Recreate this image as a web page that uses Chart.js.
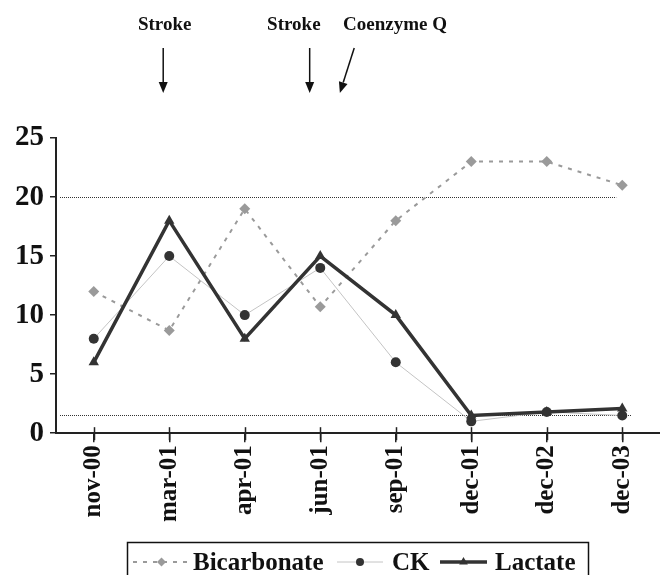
<!DOCTYPE html>
<html lang="en">

<head>
  <meta charset="UTF-8">
  <title>Chart</title>
  <style>
    html,
    body {
      margin: 0;
      background: #fff;
    }

    #wrap {
      width: 660px;
      height: 575px;
    }
  </style>
</head>

<body>
  <div id="wrap"><canvas id="myChart"></canvas></div>
  <script src="https://cdn.jsdelivr.net/npm/chart.js@4/dist/chart.umd.min.js"></script>
  <script>
    const months = ['nov-00', 'mar-01', 'apr-01', 'jun-01', 'sep-01', 'dec-01', 'dec-02', 'dec-03']
    const bicarbonate = [12, 8.7, 19, 10.7, 18, 23, 23, 21]
    const ck = [8, 15, 10, 14, 6, 1, 1.8, 1.5]
    const lactate = [6, 18, 8, 15, 10, 1.5, 1.8, 2.1]
    const refLevels = [20, 1.5]
    const events = ['Stroke', 'Stroke', 'Coenzyme Q']

    const serif = '"Liberation Serif", "Times New Roman", serif'

    function arrow(ctx, x1, y1, x2, y2) {
      const ang = Math.atan2(y2 - y1, x2 - x1)
      const len = 11, half = 4.5
      const bx = x2 - Math.cos(ang) * len, by = y2 - Math.sin(ang) * len
      ctx.beginPath()
      ctx.moveTo(x1, y1)
      ctx.lineTo(bx, by)
      ctx.stroke()
      ctx.beginPath()
      ctx.moveTo(x2, y2)
      ctx.lineTo(bx + Math.sin(ang) * half, by - Math.cos(ang) * half)
      ctx.lineTo(bx - Math.sin(ang) * half, by + Math.cos(ang) * half)
      ctx.closePath()
      ctx.fill()
    }

    // dotted reference levels behind the series
    const refPlugin = {
      id: 'refs',
      beforeDatasetsDraw(chart) {
        const { ctx, chartArea, scales } = chart
        const last = scales.x.getPixelForValue(months.length - 1)
        const ends = [last - 6, last + 9]
        ctx.save()
        ctx.strokeStyle = '#333'
        ctx.lineWidth = 1
        ctx.setLineDash([1, 1])
        refLevels.forEach((v, i) => {
          const y = Math.round(scales.y.getPixelForValue(v)) + 0.5
          ctx.beginPath()
          ctx.moveTo(chartArea.left + 4, y)
          ctx.lineTo(ends[i], y)
          ctx.stroke()
        })
        ctx.restore()
      }
    }

    const extrasPlugin = {
      id: 'extras',
      afterDraw(chart) {
        const { ctx, chartArea, scales } = chart
        const x = scales.x
        ctx.save()

        // ticks at the category centres, crossing the axis
        ctx.strokeStyle = '#222'
        ctx.lineWidth = 1.5
        months.forEach((m, i) => {
          const px = Math.round(x.getPixelForValue(i)) + 0.5
          ctx.beginPath()
          ctx.moveTo(px, chartArea.bottom - 6)
          ctx.lineTo(px, chartArea.bottom + 7)
          ctx.stroke()
        })

        // event annotations
        ctx.fillStyle = '#111'
        ctx.strokeStyle = '#111'
        ctx.lineWidth = 1.5
        ctx.font = 'bold 19px ' + serif
        ctx.textAlign = 'center'
        ctx.textBaseline = 'alphabetic'
        const textPos = [0.94, 2.65, 3.99]
        const arrows = [[0.92, 0.92], [2.86, 2.86], [3.45, 3.26]]
        events.forEach((e, i) => {
          ctx.fillText(e, x.getPixelForValue(textPos[i]), 30)
          arrow(ctx, x.getPixelForValue(arrows[i][0]), 48, x.getPixelForValue(arrows[i][1]), 93)
        })

        // legend
        ctx.setLineDash([])
        ctx.strokeStyle = '#111'
        ctx.lineWidth = 1.5
        ctx.strokeRect(127.5, 542.5, 461, 40)
        const ly = 562
        const items = chart.data.datasets
        const layout = [[133, 190, 193], [337, 383, 392], [440, 487, 495]]
        ctx.font = 'bold 25px ' + serif
        ctx.textAlign = 'left'
        ctx.textBaseline = 'middle'
        const legendOrder = [2, 1, 0]
        legendOrder.forEach((di, k) => {
          const ds = items[di]
          const [a, b, t] = layout[k]
          ctx.save()
          ctx.strokeStyle = ds.borderColor
          ctx.lineWidth = ds.borderWidth
          ctx.setLineDash(ds.borderDash || [])
          ctx.beginPath()
          ctx.moveTo(a, ly)
          ctx.lineTo(b, ly)
          ctx.stroke()
          ctx.setLineDash([])
          ctx.fillStyle = ds.backgroundColor
          ctx.strokeStyle = ds.backgroundColor
          Chart.helpers.drawPoint(ctx, {
            pointStyle: ds.pointStyle,
            radius: ds.pointRadius - 1,
            borderWidth: 0
          }, (a + b) / 2, ly)
          ctx.restore()
          ctx.fillStyle = '#111'
          ctx.fillText(ds.label, t, ly + 2)
        })
        ctx.restore()
      }
    }

    function drawChart() {
      const context = document.querySelector('#myChart').getContext('2d')
      new Chart(context, {
        type: 'line',
        data: {
          labels: months,
          datasets: [
            {
              label: 'Lactate',
              data: lactate,
              borderColor: '#333',
              backgroundColor: '#333',
              borderWidth: 3.5,
              pointStyle: 'triangle',
              pointRadius: 6,
              pointBorderWidth: 0,
              order: 0
            },
            {
              label: 'CK',
              data: ck,
              borderColor: '#c4c4c4',
              backgroundColor: '#333',
              borderWidth: 1,
              pointStyle: 'circle',
              pointRadius: 5,
              pointBorderColor: '#333',
              pointBorderWidth: 0,
              order: 1
            },
            {
              label: 'Bicarbonate',
              data: bicarbonate,
              borderColor: '#9a9a9a',
              backgroundColor: '#9a9a9a',
              borderWidth: 2,
              borderDash: [4, 6],
              pointStyle: 'rectRot',
              pointRadius: 5.5,
              pointBorderColor: '#9a9a9a',
              pointBorderWidth: 0,
              order: 2
            }
          ]
        },
        options: {
          responsive: true,
          maintainAspectRatio: false,
          animation: false,
          layout: {
            autoPadding: false,
            padding: { top: 138, left: 9, right: 0, bottom: 50 }
          },
          plugins: {
            legend: { display: false },
            tooltip: { enabled: false }
          },
          scales: {
            x: {
              offset: true,
              border: { display: true, color: '#222', width: 2 },
              grid: { drawOnChartArea: false, tickLength: 9, color: '#222', lineWidth: 1.5 },
              afterFit(scale) {
                scale.paddingLeft = 0
                scale.paddingRight = 0
              },
              ticks: {
                color: '#111',
                font: { family: serif, size: 25, weight: 'bold' },
                minRotation: 90,
                maxRotation: 90,
                padding: 3
              }
            },
            y: {
              min: 0,
              max: 25,
              border: { display: true, color: '#222', width: 2 },
              grid: { drawOnChartArea: false, tickLength: 6, color: '#222', lineWidth: 1.5 },
              ticks: {
                stepSize: 5,
                color: '#111',
                padding: 6,
                font: { family: serif, size: 29, weight: 'bold' }
              }
            }
          }
        },
        plugins: [refPlugin, extrasPlugin]
      })
    }

    window.onload = () => {
      drawChart()
    }
  </script>
</body>

</html>
